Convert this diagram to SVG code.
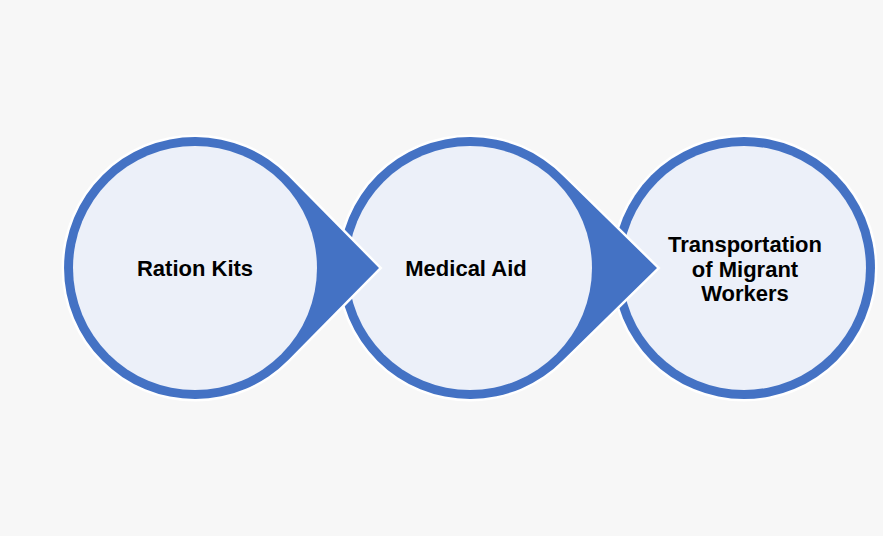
<svg xmlns="http://www.w3.org/2000/svg" width="883" height="536" viewBox="0 0 883 536">
  <style>
    .shape { fill: #4472C4; stroke: #FFFFFF; stroke-width: 5; paint-order: stroke; stroke-linejoin: miter; }
    .inner { fill: #ECF0F9; }
    .label { font-family: "Liberation Sans", Arial, sans-serif; font-weight: bold; font-size: 22px; fill: #000000; text-anchor: middle; }
  </style>
  <rect x="0" y="0" width="883" height="536" fill="#F7F7F7"/>
  <g id="connectors"></g>
  <g id="node3">
    <circle class="shape" cx="744" cy="268" r="131"/>
    <circle class="inner" cx="744" cy="268" r="122"/>
    <text class="label" x="745" y="252">Transportation</text>
    <text class="label" x="745" y="277">of Migrant</text>
    <text class="label" x="745" y="301">Workers</text>
  </g>
  <g id="node2">
    <path class="shape" d="M563.4 176.2 L657 268 L563.4 359.8 A131 131 0 1 1 563.4 176.2 Z"/>
    <circle class="inner" cx="470" cy="268" r="122"/>
    <text class="label" x="466" y="276">Medical Aid</text>
  </g>
  <g id="node1">
    <path class="shape" d="M288.3 176 L379 268 L288.3 360 A131 131 0 1 1 288.3 176 Z"/>
    <circle class="inner" cx="195" cy="268" r="122"/>
    <text class="label" x="195" y="276">Ration Kits</text>
  </g>
</svg>
